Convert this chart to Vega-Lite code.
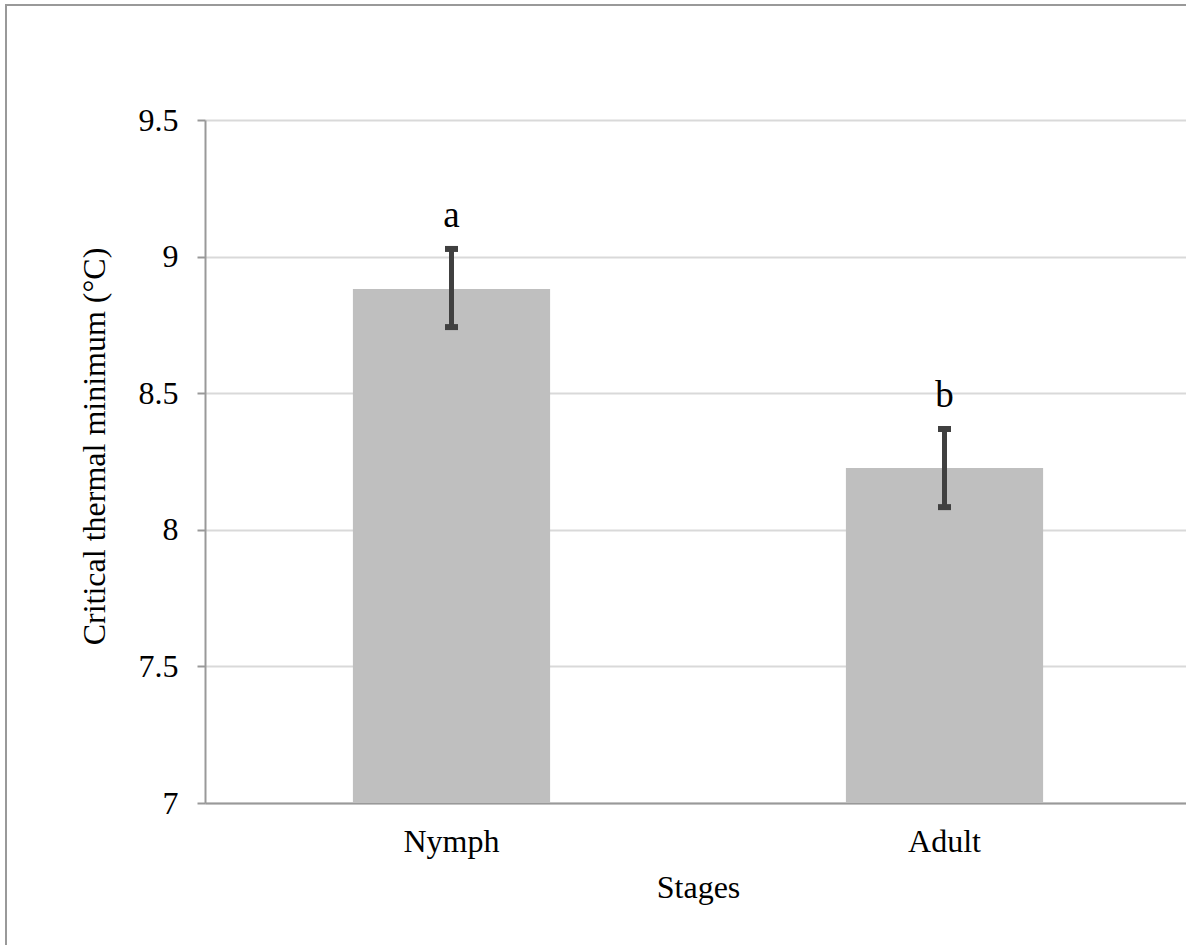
{
  "$schema": "https://vega.github.io/schema/vega-lite/v6.json",
  "autosize": {"type": "none"},
  "padding": {"left": 6, "top": 5, "right": -3, "bottom": -3},
  "width": 1183,
  "height": 943,
  "background": "white",
  "config": {
    "view": {"stroke": "#999999", "strokeWidth": 2},
    "font": "Times New Roman, Liberation Serif, DejaVu Serif, serif"
  },
  "data": {
    "values": [
      {"Stage": "Nymph", "Mean": 8.881, "Lo": 8.742, "Hi": 9.028, "Letter": "a"},
      {"Stage": "Adult", "Mean": 8.226, "Lo": 8.083, "Hi": 8.369, "Letter": "b"}
    ]
  },
  "encoding": {
    "x": {
      "field": "Stage",
      "type": "nominal",
      "sort": ["Nymph", "Adult"],
      "scale": {"range": [199, 1185], "paddingInner": 0.6, "paddingOuter": 0.3},
      "axis": {
        "orient": "bottom",
        "offset": -145,
        "ticks": false,
        "tickSize": 0,
        "grid": false,
        "domainColor": "#999999",
        "domainWidth": 2,
        "labelFont": "Times New Roman, Liberation Serif, DejaVu Serif, serif",
        "labelFontSize": 32,
        "labelColor": "#000000",
        "labelAngle": 0,
        "labelBaseline": "alphabetic",
        "labelPadding": 48,
        "title": "Stages",
        "titleFont": "Times New Roman, Liberation Serif, DejaVu Serif, serif",
        "titleFontSize": 32,
        "titleFontWeight": "normal",
        "titleColor": "#000000",
        "titleY": 94,
        "titleBaseline": "alphabetic"
      }
    }
  },
  "layer": [
    {
      "mark": {"type": "bar", "color": "#bfbfbf"},
      "encoding": {
        "y": {
          "field": "Mean",
          "type": "quantitative",
          "scale": {"domain": [7, 9.5], "range": [798, 115], "nice": false, "zero": false},
          "axis": {
            "orient": "left",
            "offset": -199,
            "values": [7, 7.5, 8, 8.5, 9, 9.5],
            "format": ".1~f",
            "tickSize": 8,
            "tickColor": "#999999",
            "tickWidth": 2,
            "domainColor": "#999999",
            "domainWidth": 2,
            "grid": true,
            "gridColor": "#d9d9d9",
            "gridWidth": 2,
            "labelFont": "Times New Roman, Liberation Serif, DejaVu Serif, serif",
            "labelFontSize": 32,
            "labelColor": "#000000",
            "labelPadding": 19,
            "title": "Critical thermal minimum (°C)",
            "titleFont": "Times New Roman, Liberation Serif, DejaVu Serif, serif",
            "titleFontSize": 32,
            "titleFontWeight": "normal",
            "titleColor": "#000000",
            "titleAngle": -90,
            "titleAlign": "center",
            "titleBaseline": "middle",
            "titleX": -111,
            "titleY": 441
          }
        },
        "y2": {"datum": 7}
      }
    },
    {
      "mark": {"type": "rule", "color": "#404040", "strokeWidth": 5},
      "encoding": {
        "y": {"field": "Lo", "type": "quantitative"},
        "y2": {"field": "Hi"}
      }
    },
    {
      "mark": {"type": "tick", "color": "#404040", "size": 13, "thickness": 6, "orient": "horizontal", "opacity": 1},
      "encoding": {"y": {"field": "Lo", "type": "quantitative"}}
    },
    {
      "mark": {"type": "tick", "color": "#404040", "size": 13, "thickness": 6, "orient": "horizontal", "opacity": 1},
      "encoding": {"y": {"field": "Hi", "type": "quantitative"}}
    },
    {
      "mark": {"type": "text", "font": "Times New Roman, Liberation Serif, DejaVu Serif, serif", "fontSize": 37, "baseline": "alphabetic", "dy": -22, "color": "#000000"},
      "encoding": {
        "y": {"field": "Hi", "type": "quantitative"},
        "text": {"field": "Letter"}
      }
    }
  ]
}
